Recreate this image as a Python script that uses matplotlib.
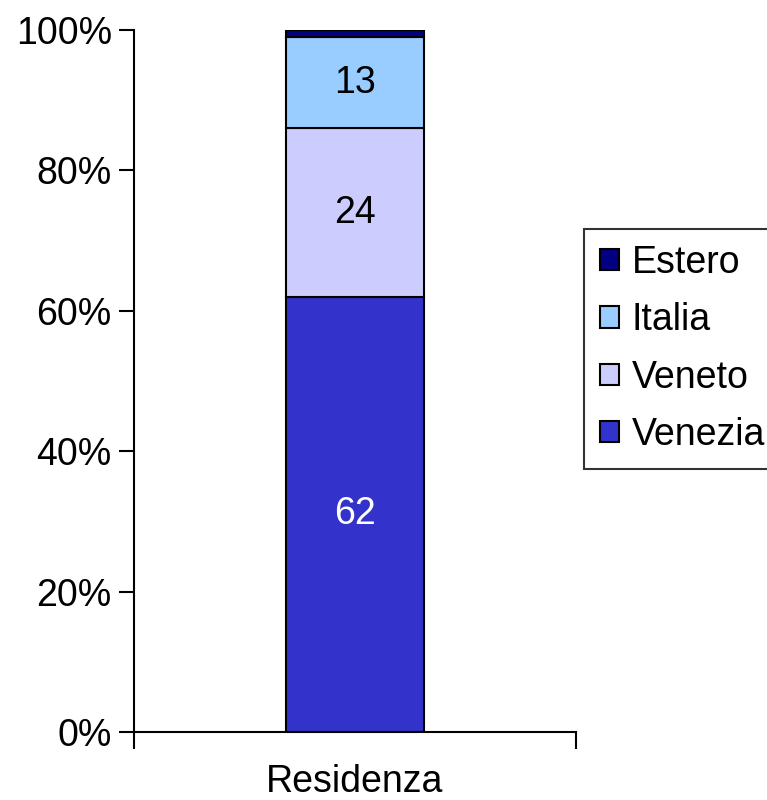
import matplotlib.pyplot as plt

plt.rcParams['font.family'] = ['Liberation Sans', 'DejaVu Sans']

category = ['Residenza']
series = ['Venezia', 'Veneto', 'Italia', 'Estero']
values = [62, 24, 13, 1]
colors = ['#3333CC', '#CCCCFF', '#99CCFF', '#000080']
label_colors = ['white', 'black', 'black', None]

FS = 27

fig = plt.figure(figsize=(7.67, 8.0), dpi=100)
ax = fig.add_axes([134 / 767, 68 / 800, 442 / 767, 702 / 800])

bottom = 0
handles = []
for name, val, col, lc in zip(series, values, colors, label_colors):
    b = ax.bar(0, val, bottom=bottom, width=0.312, color=col,
               edgecolor='black', linewidth=1.5, label=name)
    handles.append(b)
    if lc is not None:
        ax.text(0, bottom + val / 2, str(val), ha='center', va='center',
                fontsize=FS, color=lc)
    bottom += val

ax.set_xlim(-0.5, 0.5)
ax.set_ylim(0, 100)
ax.set_yticks(range(0, 101, 20))
ax.set_yticklabels([f'{v}%' for v in range(0, 101, 20)], fontsize=FS)
ax.tick_params(axis='y', direction='out', length=11, width=1.5, pad=5)

# category boundaries as ticks on the x axis
ax.set_xticks([-0.5, 0.5])
ax.set_xticklabels(['', ''])
ax.tick_params(axis='x', direction='out', length=12, width=1.5)
ax.text(0, -4.6, category[0], ha='center', va='top', fontsize=FS)

for s in ['top', 'right']:
    ax.spines[s].set_visible(False)
for s in ['left', 'bottom']:
    ax.spines[s].set_linewidth(1.5)

leg = ax.legend(handles[::-1], series[::-1], loc='upper left',
                bbox_to_anchor=(584 / 767, 1 - 229 / 800), bbox_transform=fig.transFigure,
                fontsize=FS, frameon=True, fancybox=False, edgecolor='black',
                handlelength=0.5, handleheight=0.5, handletextpad=0.35,
                labelspacing=0.57, borderpad=0.42, borderaxespad=0)
leg.get_frame().set_linewidth(1.5)

fig.savefig('out.png', dpi=100)
